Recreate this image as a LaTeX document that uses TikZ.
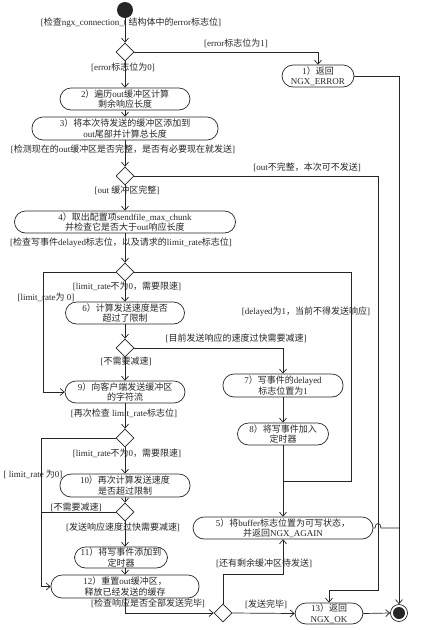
\documentclass[tikz,border=0pt]{standalone}
\usepackage{fontspec}
\setmainfont{Liberation Serif}
\newfontfamily\cjkfont{Noto Sans CJK SC}
\usetikzlibrary{arrows.meta,shapes.geometric}
\newXeTeXintercharclass\cjkcls
\newcount\cjkc
\cjkc="4E00
\loop \XeTeXcharclass\cjkc=\cjkcls \advance\cjkc 1 \ifnum\cjkc<"A000 \repeat
\cjkc="3000
\loop \XeTeXcharclass\cjkc=\cjkcls \advance\cjkc 1 \ifnum\cjkc<"3040 \repeat
\cjkc="FF00
\loop \XeTeXcharclass\cjkc=\cjkcls \advance\cjkc 1 \ifnum\cjkc<"FFF0 \repeat
\XeTeXinterchartoks 0 \cjkcls = {\cjkfont}
\XeTeXinterchartoks 4095 \cjkcls = {\cjkfont}
\XeTeXinterchartoks \cjkcls 0 = {\rmfamily}
\XeTeXinterchartoks \cjkcls 4095 = {\rmfamily}
\XeTeXinterchartokenstate=1
\newcommand\fsz{\fontsize{9}{10.5}\selectfont}
\begin{document}
\begin{tikzpicture}[x=1pt,y=-1pt,line width=0.7pt,color=black!85,
  >={Straight Barb[length=4pt,width=7pt]},
  act/.style={draw,rounded corners=11pt,align=center,inner sep=0pt,font=\fsz},
  dec/.style={diamond,draw,minimum width=18pt,minimum height=18pt,inner sep=0pt},
  lbl/.style={inner sep=0pt,font=\fsz}]
\useasboundingbox (0,0) rectangle (444,630);
% nodes
\node[circle,fill,minimum size=16pt,inner sep=0pt] (start) at (125,10) {};
\node[dec] (d1) at (125,52) {};
\node[act,minimum width=72pt,minimum height=22pt] (n1) at (318,76) {1）返回\\NGX\_ERROR};
\node[act,minimum width=130pt,minimum height=22pt] (n2) at (125,99) {2）遍历out缓冲区计算\\剩余响应长度};
\node[act,minimum width=186pt,minimum height=23pt] (n3) at (125,128.5) {3）将本次待发送的缓冲区添加到\\out尾部并计算总长度};
\node[dec] (d2) at (125,176) {};
\node[act,minimum width=221pt,minimum height=22pt] (n4) at (125,222) {4）取出配置项sendfile\_max\_chunk\\并检查它是否大于out响应长度};
\node[dec] (d3) at (125,272) {};
\node[act,minimum width=119pt,minimum height=22pt] (n6) at (125,313) {6）计算发送速度是否\\超过了限制};
\node[dec] (d4) at (125,348) {};
\node[act,minimum width=120pt,minimum height=23pt] (n7) at (283,385.5) {7）写事件的delayed\\标志位置为1};
\node[act,minimum width=120pt,minimum height=22pt] (n9) at (125,392) {9）向客户端发送缓冲区\\的字符流};
\node[act,minimum width=91pt,minimum height=22pt] (n8) at (283,434) {8）将写事件加入\\定时器};
\node[dec] (d5) at (125,438) {};
\node[act,minimum width=130pt,minimum height=23pt] (n10) at (125,485.5) {10）再次计算发送速度\\是否超过限制};
\node[dec] (d6) at (125,512) {};
\node[act,minimum width=93pt,minimum height=21pt] (n11) at (121,557.5) {11）将写事件添加到\\定时器};
\node[act,minimum width=148pt,minimum height=23pt] (n12) at (125,586.5) {12）重置out缓冲区，\\释放已经发送的缓存};
\node[act,minimum width=180pt,minimum height=22pt] (n5) at (283,528) {5）将buffer标志位置为可写状态，\\并返回NGX\_AGAIN};
\node[dec] (d7) at (223,613) {};
\node[act,minimum width=68pt,minimum height=21pt] (n13) at (329,613.5) {13）返回\\NGX\_OK};
\node[circle,draw,minimum size=17pt,inner sep=0pt] (end) at (399,613) {};
\node[circle,fill,minimum size=12pt,inner sep=0pt] (endin) at (399,613) {};
% labels
\node[lbl] (l0) at (131,23) {[检查ngx\_connection\_t 结构体中的error标志位]};
\node[lbl] (l1) at (236,43) {[error标志位为1]};
\node[lbl] (l2) at (123,67) {[error标志位为0]};
\node[lbl] (l3) at (123,149) {[检测现在的out缓冲区是否完整，是否有必要现在就发送]};
\node[lbl] (l4) at (307,167) {[out不完整，本次可不发送]};
\node[lbl] (l5) at (127,190) {[out 缓冲区完整]};
\node[lbl] (l6) at (121,243) {[检查写事件delayed标志位，以及请求的limit\_rate标志位]};
\node[lbl] (l7) at (127,286) {[limit\_rate不为0，需要限速]};
\node[lbl] (l8) at (46,297) {[limit\_rate为 0]};
\node[lbl] (l9) at (306,312) {[delayed为1，当前不得发送响应]};
\node[lbl] (l10) at (236,338) {[目前发送响应的速度过快需要减速]};
\node[lbl] (l11) at (126,361) {[不需要减速]};
\node[lbl] (l12) at (124,413) {[再次检查 limit\_rate标志位]};
\node[lbl] (l13) at (127,453) {[limit\_rate不为0，需要限速]};
\node[lbl] (l14) at (33,474) {[ limit\_rate 为0]};
\node[lbl] (l15) at (76,507) {[不需要减速]};
\node[lbl] (l16) at (123,527) {[发送响应速度过快需要减速]};
\node[lbl] (l17) at (148,603) {[检查响应是否全部发送完毕]};
\node[lbl] (l18) at (264,563) {[还有剩余缓冲区待发送]};
\node[lbl] (l19) at (266,604) {[发送完毕]};
% coordinates
\coordinate (c1) at (378,590);
\coordinate (c2) at (43,392);
\coordinate (c3) at (351,481);
\coordinate (c4) at (283,481);
\coordinate (c5) at (41,586.5);
\coordinate (c6) at (223,574);
\coordinate (h1) at (375,528);
\coordinate (h2) at (381,528);
\coordinate (j5) at (399,528);
% connectors
\draw[->] (start) -- (d1);
\draw[->] (d1.east) -| (n1.north);
\draw[->] (d1) -- (n2);
\draw[->] (n1.east) -| (end.north);
\draw[->] (n2) -- (n3);
\draw[->] (n3) -- (d2);
\draw[->] (d2.east) -| (c1) -| (n13.north);
\draw[->] (d2) -- (n4);
\draw[->] (n4) -- (d3);
\draw[->] (d3.west) -| (c2) -- (n9.west);
\draw (d3.east) -| (c3) -- (c4);
\draw[->] (d3) -- (n6);
\draw[->] (n6) -- (d4);
\draw[->] (d4.east) -| (n7.north);
\draw[->] (d4) -- (n9);
\draw[->] (n7) -- (n8);
\draw[->] (n8) -- (n5);
\draw[->] (n9) -- (d5);
\draw[->] (d5.west) -| (c5) -- (n12.west);
\draw[->] (d5) -- (n10);
\draw[->] (n10) -- (d6);
\draw (d6.west) -- (d6.west -| c5);
\draw[->] (d6.south) -- (d6.south |- n11.north);
\draw[->] (n11.south -| n12) -- (n12.north);
\draw[->] (n12.south) |- (d7.west);
\draw[->] (d7.north) -- (c6) -| (n5.south);
\draw[->] (d7.east) -- (n13.west);
\draw[->] (n13.east) -- (end.west);
\draw (n5.east) -- (h1) .. controls (375,522) and (381,522) .. (h2) -- (j5);
\end{tikzpicture}
\end{document}
